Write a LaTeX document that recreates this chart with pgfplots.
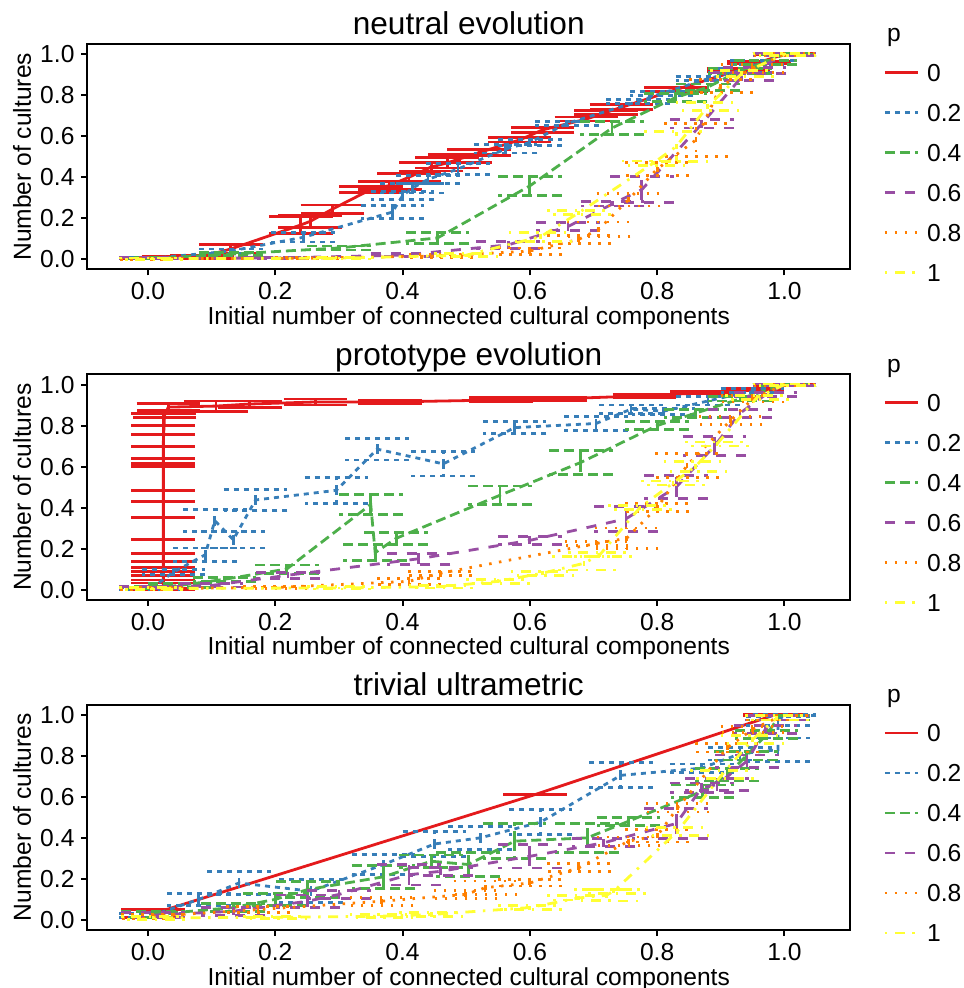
\documentclass[border=0pt]{standalone}
\usepackage{fontspec}
\setmainfont{Liberation Sans}
\usepackage{pgfplots}
\pgfplotsset{compat=1.18}

\definecolor{c0}{HTML}{E41A1C}
\definecolor{c2}{HTML}{377EB8}
\definecolor{c4}{HTML}{4DAF4A}
\definecolor{c6}{HTML}{984EA3}
\definecolor{c8}{HTML}{FF7F00}
\definecolor{c10}{HTML}{FFFF33}

\tikzset{
  d0/.style={solid},
  d2/.style={dash pattern=on 2.5pt off 2.5pt},
  d4/.style={dash pattern=on 5pt off 2.5pt},
  d6/.style={dash pattern=on 5pt off 5pt},
  d8/.style={dash pattern=on 1.25pt off 3.75pt},
  d10/.style={dash pattern=on 1.25pt off 3.75pt on 5pt off 3.75pt},
}

\pgfplotsset{
  ser/.style 2 args={color=#1, #2, line width=1.4pt, no marks,
    error bars/y dir=both, error bars/y explicit, error bars/error mark=-,
    error bars/error bar style={line width=1.4pt, #2},
    error bars/error mark options={line width=1.4pt, rotate=90, mark size=15.9pt, #2}},
  panel/.style={
    width=381.25pt, height=112.75pt, scale only axis,
    anchor=north west, clip=false,
    xmin=-0.095, xmax=1.103, ymin=-0.05, ymax=1.05,
    xtick={0,0.2,0.4,0.6,0.8,1}, ytick={0,0.2,0.4,0.6,0.8,1},
    xtick pos=left, ytick pos=left, tick align=outside,
    major tick length=3pt,
    axis line style={line width=1pt},
    tick style={line width=1pt, black},
    tick label style={font=\fontsize{12.3}{14}\selectfont},
    label style={font=\fontsize{12.3}{14}\selectfont},
    title style={font=\fontsize{15.8}{18}\selectfont, at={(0.5,1)}, anchor=base, yshift=-1.5pt},
    xlabel={Initial number of connected cultural components},
    ylabel={Number of cultures},
    xlabel style={at={(0.5,0)}, anchor=base, yshift=-27.5pt},
    ylabel style={at={(-0.0859,0.5)}, anchor=center},
    /pgf/number format/fixed,
    /pgf/number format/fixed zerofill,
    /pgf/number format/precision=1,
    /pgf/number format/assume math mode=true,
    legend cell align=left,
    legend image code/.code={\draw[##1, line width=1.4pt] plot coordinates {(0pt,0pt) (16.5pt,0pt)};},
    legend style={draw=none, fill=none, at={(1,1)}, anchor=north west,
      xshift=16.5pt, yshift=-9.6pt, inner sep=0pt,
      font=\fontsize{12.3}{14}\selectfont,
      nodes={inner sep=0pt, text height=8.8pt, text depth=0pt},
      row sep=11.2pt,
      /tikz/every odd column/.style={column sep=4pt}},
  },
}

\begin{document}
\begin{tikzpicture}
\useasboundingbox (-43.75pt,22pt) rectangle (437.75pt,-472pt);

% ---------------- neutral evolution ----------------
\begin{axis}[panel, at={(0pt,0pt)}, title={neutral evolution}]
\addplot[ser={c0}{d0}] table[x=x, y=y, y error=e] {
x y e
0.005 0.005 0.004
0.04 0.010 0.006
0.085 0.012 0.008
0.13 0.05 0.02
0.24 0.167 0.04
0.255 0.185 0.03
0.29 0.245 0.02
0.35 0.34 0.016
0.38 0.36 0.02
0.41 0.40 0.02
0.445 0.45 0.02
0.47 0.47 0.025
0.49 0.49 0.02
0.52 0.52 0.015
0.584 0.582 0.01
0.62 0.631 0.012
0.689 0.684 0.01
0.72 0.717 0.01
0.744 0.741 0.012
0.83 0.828 0.01
0.928 0.922 0.008
0.96 0.96 0.006
1.0 1.0 0.003
};
\addlegendentry{0}
\addplot[ser={c2}{d2}] table[x=x, y=y, y error=e] {
x y e
0.005 0.004 0.003
0.13 0.04 0.01
0.244 0.107 0.023
0.384 0.23 0.033
0.40 0.31 0.02
0.415 0.346 0.023
0.44 0.39 0.02
0.487 0.44 0.026
0.562 0.538 0.02
0.60 0.57 0.015
0.658 0.662 0.01
0.77 0.77 0.01
0.807 0.809 0.01
0.879 0.88 0.01
0.93 0.92 0.01
0.965 0.96 0.01
1.0 1.0 0.003
};
\addlegendentry{0.2}
\addplot[ser={c4}{d4}] table[x=x, y=y, y error=e] {
x y e
0.005 0.004 0.003
0.13 0.025 0.008
0.30 0.055 0.01
0.455 0.104 0.026
0.60 0.358 0.047
0.729 0.64 0.032
0.829 0.789 0.02
0.88 0.84 0.015
0.93 0.92 0.012
0.97 0.96 0.01
1.0 1.0 0.003
};
\addlegendentry{0.4}
\addplot[ser={c6}{d6}] table[x=x, y=y, y error=e] {
x y e
0.005 0.004 0.003
0.2 0.006 0.004
0.4 0.02 0.008
0.566 0.07 0.018
0.66 0.16 0.02
0.73 0.27 0.01
0.776 0.34 0.064
0.87 0.66 0.02
0.933 0.89 0.02
0.953 0.92 0.015
1.0 1.0 0.005
};
\addlegendentry{0.6}
\addplot[ser={c8}{d8}] table[x=x, y=y, y error=e] {
x y e
0.005 0.003 0.003
0.25 0.005 0.004
0.46 0.016 0.008
0.60 0.04 0.015
0.677 0.097 0.02
0.708 0.146 0.036
0.755 0.29 0.03
0.80 0.44 0.03
0.861 0.582 0.08
0.9 0.845 0.033
0.95 0.93 0.02
1.0 1.0 0.005
};
\addlegendentry{0.8}
\addplot[ser={c10}{d10}] table[x=x, y=y, y error=e] {
x y e
0.005 0.003 0.003
0.3 0.005 0.004
0.5 0.02 0.008
0.617 0.11 0.022
0.677 0.227 0.01
0.794 0.469 0.01
0.83 0.55 0.073
0.879 0.744 0.02
0.933 0.906 0.015
1.0 1.0 0.005
};
\addlegendentry{1}
\node[anchor=base west, font=\fontsize{12.3}{14}\selectfont, xshift=15pt, yshift=1pt] at (rel axis cs:1,1) {p};
\end{axis}

% ---------------- prototype evolution ----------------
\begin{axis}[panel, at={(0pt,-165.15pt)}, title={prototype evolution}]
\addplot[ser={c0}{d0}] table[x=x, y=y, y error=e] {
x y e
0.024 0.02 0.012
0.024 0.058 0.011
0.024 0.098 0.01
0.024 0.157 0.02
0.024 0.298 0.055
0.024 0.43 0.43
0.024 0.456 0.027
0.024 0.648 0.049
0.024 0.698 0.06
0.024 0.709 0.093
0.026 0.85 0.01
0.032 0.89 0.017
0.107 0.895 0.025
0.16 0.905 0.015
0.263 0.915 0.015
0.38 0.915 0.01
0.555 0.925 0.01
0.64 0.93 0.008
0.78 0.945 0.008
0.87 0.96 0.006
0.95 0.975 0.005
1.0 1.0 0.003
};
\addlegendentry{0}
\addplot[ser={c2}{d2}] table[x=x, y=y, y error=e] {
x y e
0.005 0.005 0.004
0.04 0.085 0.012
0.09 0.17 0.033
0.105 0.336 0.053
0.134 0.243 0.04
0.169 0.437 0.05
0.296 0.484 0.063
0.36 0.685 0.053
0.464 0.613 0.059
0.576 0.79 0.028
0.704 0.81 0.033
0.759 0.88 0.02
0.81 0.87 0.015
0.88 0.92 0.02
0.95 0.97 0.01
1.0 1.0 0.003
};
\addlegendentry{0.2}
\addplot[ser={c4}{d4}] table[x=x, y=y, y error=e] {
x y e
0.005 0.01 0.006
0.05 0.02 0.01
0.12 0.05 0.01
0.218 0.10 0.02
0.35 0.415 0.05
0.357 0.18 0.04
0.39 0.25 0.03
0.553 0.46 0.045
0.68 0.62 0.06
0.80 0.80 0.02
0.86 0.86 0.02
0.93 0.93 0.01
1.0 1.0 0.003
};
\addlegendentry{0.4}
\addplot[ser={c6}{d6}] table[x=x, y=y, y error=e] {
x y e
0.005 0.01 0.006
0.1 0.02 0.008
0.22 0.07 0.015
0.425 0.15 0.027
0.6 0.24 0.02
0.751 0.345 0.06
0.83 0.50 0.057
0.89 0.70 0.045
0.93 0.86 0.02
0.97 0.95 0.01
1.0 1.0 0.003
};
\addlegendentry{0.6}
\addplot[ser={c8}{d8}] table[x=x, y=y, y error=e] {
x y e
0.005 0.005 0.004
0.2 0.01 0.006
0.41 0.04 0.015
0.459 0.079 0.01
0.705 0.225 0.01
0.752 0.25 0.05
0.80 0.40 0.02
0.847 0.605 0.057
0.915 0.824 0.02
0.95 0.93 0.015
1.0 1.0 0.003
};
\addlegendentry{0.8}
\addplot[ser={c10}{d10}] table[x=x, y=y, y error=e] {
x y e
0.005 0.005 0.004
0.3 0.008 0.005
0.46 0.014 0.006
0.55 0.04 0.01
0.62 0.08 0.01
0.685 0.128 0.033
0.71 0.17 0.01
0.773 0.40 0.01
0.825 0.52 0.01
0.86 0.60 0.025
0.894 0.71 0.01
0.957 0.937 0.01
1.0 1.0 0.003
};
\addlegendentry{1}
\node[anchor=base west, font=\fontsize{12.3}{14}\selectfont, xshift=15pt, yshift=1pt] at (rel axis cs:1,1) {p};
\end{axis}

% ---------------- trivial ultrametric ----------------
\begin{axis}[panel, at={(0pt,-330.3pt)}, title={trivial ultrametric}]
\addplot[ser={c0}{d0}] table[x=x, y=y, y error=e] {
x y e
0.008 0.03 0.02
0.608 0.611 0.0
0.985 1.0 0.003
};
\addlegendentry{0}
\addplot[ser={c2}{d2}] table[x=x, y=y, y error=e] {
x y e
0.005 0.02 0.01
0.08 0.10 0.03
0.143 0.18 0.057
0.256 0.14 0.057
0.37 0.27 0.05
0.45 0.37 0.06
0.522 0.40 0.055
0.617 0.477 0.061
0.743 0.705 0.061
0.87 0.74 0.02
0.93 0.81 0.03
0.99 0.83 0.057
0.99 0.97 0.02
1.0 1.0 0.003
};
\addlegendentry{0.2}
\addplot[ser={c4}{d4}] table[x=x, y=y, y error=e] {
x y e
0.008 0.026 0.015
0.134 0.06 0.02
0.20 0.10 0.03
0.251 0.148 0.04
0.37 0.21 0.057
0.445 0.286 0.03
0.503 0.27 0.057
0.576 0.384 0.085
0.69 0.40 0.07
0.755 0.481 0.02
0.871 0.628 0.03
0.91 0.707 0.03
0.94 0.80 0.02
0.972 0.904 0.02
0.99 0.985 0.01
};
\addlegendentry{0.4}
\addplot[ser={c6}{d6}] table[x=x, y=y, y error=e] {
x y e
0.008 0.023 0.012
0.134 0.042 0.02
0.251 0.091 0.03
0.30 0.124 0.02
0.41 0.22 0.05
0.46 0.237 0.02
0.60 0.31 0.057
0.716 0.376 0.02
0.83 0.47 0.073
0.87 0.644 0.024
0.894 0.66 0.03
0.941 0.774 0.03
0.97 0.93 0.02
0.988 0.985 0.01
};
\addlegendentry{0.6}
\addplot[ser={c8}{d8}] table[x=x, y=y, y error=e] {
x y e
0.008 0.018 0.01
0.173 0.05 0.015
0.367 0.091 0.02
0.499 0.124 0.02
0.53 0.157 0.033
0.60 0.18 0.015
0.677 0.254 0.02
0.755 0.384 0.02
0.80 0.41 0.03
0.832 0.546 0.02
0.91 0.839 0.02
0.95 0.93 0.015
0.988 0.985 0.01
};
\addlegendentry{0.8}
\addplot[ser={c10}{d10}] table[x=x, y=y, y error=e] {
x y e
0.008 0.01 0.008
0.2 0.012 0.006
0.367 0.018 0.008
0.445 0.026 0.01
0.60 0.06 0.01
0.677 0.107 0.01
0.72 0.12 0.028
0.732 0.14 0.01
0.832 0.432 0.02
0.902 0.709 0.02
0.95 0.88 0.02
0.988 0.985 0.01
};
\addlegendentry{1}
\node[anchor=base west, font=\fontsize{12.3}{14}\selectfont, xshift=15pt, yshift=1pt] at (rel axis cs:1,1) {p};
\end{axis}
\end{tikzpicture}
\end{document}
